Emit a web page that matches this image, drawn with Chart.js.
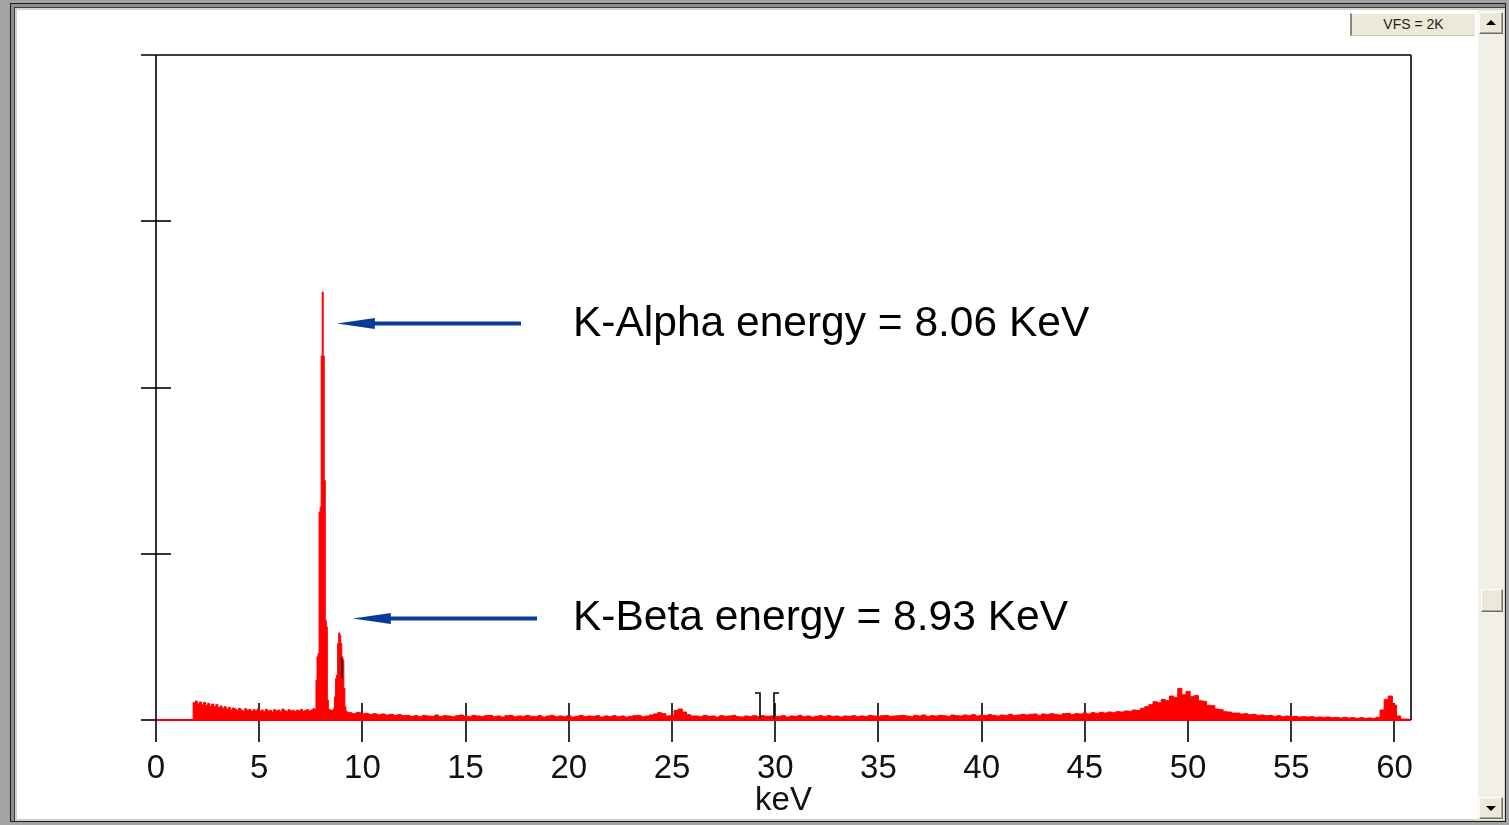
<!DOCTYPE html>
<html>
<head>
<meta charset="utf-8">
<title>Spectrum</title>
<script src="https://cdn.jsdelivr.net/npm/chart.js@4/dist/chart.umd.min.js"></script>
<style>
  html, body { margin: 0; padding: 0; width: 1509px; height: 825px; overflow: hidden; background: #a3a3a3; }
  .win {
    position: absolute; left: 10px; top: 3px; width: 1494px; height: 817px;
    border: 1px solid #1c1c1c; background: #fff;
    box-shadow: inset 3px 3px 0 #8e8e8e, inset 4px 4px 0 #3c3c3c, inset 6px 6px 0 #d6d3ca, inset -2px -2px 0 #d4d0c8;
  }
  #wrap { position: absolute; left: 0; top: 0; width: 1509px; height: 825px; z-index: 1; }
  .sb {
    position: absolute; left: 1478px; top: 10px; width: 26px; height: 810px; z-index: 2;
    background: repeating-conic-gradient(#f7f6f1 0 25%, #ebe9e0 0 50%) 0 0 / 2px 2px;
  }
  .btn {
    position: absolute; left: 1479px; width: 22px; height: 20px; z-index: 3;
    background: #ece9d8;
    border-top: 1px solid #fff; border-left: 1px solid #fff;
    border-right: 1px solid #716f64; border-bottom: 1px solid #716f64;
    box-shadow: inset -1px -1px 0 #aca899;
  }
  .up { top: 12px; }
  .down { top: 797px; }
  .thumb { top: 589px; left: 1481px; width: 20px; height: 21px; }
  .tri { position: absolute; left: 6px; width: 0; height: 0; border-left: 5px solid transparent; border-right: 5px solid transparent; }
  .up .tri { top: 7px; border-bottom: 5px solid #000; }
  .down .tri { top: 8px; border-top: 5px solid #000; }
  .vfs {
    position: absolute; left: 1350px; top: 13px; width: 123px; height: 21px; z-index: 2;
    background: #ece9d8; border-left: 2px solid #8a877c; border-top: 1px solid #fff; border-bottom: 1px solid #c9c5b5;
    font: 14px "Liberation Sans", Arial, sans-serif; color: #222; text-align: center; line-height: 21px;
  }
</style>
</head>
<body>
<div class="win"></div>
<div id="wrap"><canvas id="c" width="1509" height="825"></canvas></div>
<div class="vfs">VFS = 2K</div>
<div class="sb"></div>
<div class="btn up"><div class="tri"></div></div>
<div class="btn thumb"></div>
<div class="btn down"><div class="tri"></div></div>
<script>
// ---- spectrum data (counts per channel) ----
// 1.8 – 7.7 keV, 0.1 keV channels
const lowEnergyStart = 1.8;
const lowEnergyStep = 0.1;
const lowEnergyCounts = [
  52, 57, 48, 54, 46, 53, 44, 50, 41, 48,
  40, 46, 37, 42, 35, 40, 33, 38, 31, 36,
  33, 29, 35, 30, 27, 34, 29, 32, 26, 31,
  28, 33, 26, 30, 25, 32, 27, 29, 24, 31,
  27, 30, 25, 33, 28, 26, 31, 27, 29, 25,
  30, 27, 32, 26, 29, 31, 27, 30, 34
];

// 7.7 – 9.3 keV, 0.05 keV channels (Cu K-alpha / K-beta lines)
const copperStart = 7.7;
const copperStep = 0.05;
const copperCounts = [
  30, 120, 190, 200, 625, 640, 1095, 1287, 1095, 720,
  300, 280, 60, 30, 32, 28, 30, 27, 35, 70,
  125, 135, 230, 262, 255, 230, 190, 180, 95, 40,
  26, 24
];

// 9.3 – 61.1 keV, 0.2 keV channels
const highEnergyStart = 9.3;
const highEnergyStep = 0.2;
const highEnergyCounts = [
  22, 19, 23, 18, 20, 17, 19, 16, 18, 15, 17, 14, 16, 13,
  14, 11, 13, 10, 14, 12, 11, 15, 10, 13,
  12, 10, 13, 15, 11, 10, 14, 12, 10, 13,
  14, 10, 12, 9, 13, 14, 10, 12, 11, 14,
  11, 10, 13, 9, 12, 14, 10, 12, 10, 13,
  9, 11, 14, 10, 12, 11, 13, 9, 12, 10,
  13, 10, 12, 9, 11, 13, 14, 10, 12, 15,
  18, 22, 19, 12, 14, 29, 33, 24, 16, 12,
  12, 10, 14, 11, 12, 9, 13, 11, 12, 14, 10, 9, 12, 11, 13, 10, 13, 11, 12, 10,
  11, 13, 9, 12, 11, 14, 10, 12, 9, 11, 13, 10, 13, 11, 12, 9, 12, 11, 13, 10,
  12, 10, 14, 12, 11, 13, 14, 11, 12, 13, 14, 12, 10, 14, 12, 15, 11, 13, 12, 14,
  13, 11, 15, 13, 12, 15, 13, 16, 12, 14, 13, 16, 14, 12, 15, 14, 17, 13, 15, 17,
  15, 17, 18, 14, 18, 16, 19, 17, 15, 19, 20, 16, 19, 18, 21, 18, 22, 20, 23, 21,
  24, 22, 25, 24, 27, 26, 30, 29, 35, 40,
  46, 55, 52, 62, 58, 72, 68, 95, 76, 86,
  70, 74, 58, 56, 44, 43, 33, 31, 25, 24,
  21, 21, 18, 19, 16, 17, 14, 15, 13, 14,
  11, 13, 10, 12, 10, 11, 9, 10, 9, 10,
  8, 9, 8, 9, 7, 8, 6, 8, 6, 7,
  5, 7, 5, 6, 5, 8, 30, 62, 72, 45,
  12, 3, 3, 2, 2
];

// ---- axes, labels, annotations ----
const energyTicks = [0, 5, 10, 15, 20, 25, 30, 35, 40, 45, 50, 55, 60];
const countTicks = [0, 500, 1000, 1500];
const energyMax = 60.8;
const countMax = 2000;
const axisTitle = 'keV';
const peakLabels = ['K-Alpha energy = 8.06 KeV', 'K-Beta energy = 8.93 KeV'];
const peakEnergies = [8.06, 8.93];
const roiMarkers = [29.26, 29.96];

function channelPoints(start, step, counts) {
  return counts.map((c, i) => ({ x: +(start + i * step).toFixed(3), y: c }));
}

const spectrum = [{ x: 0, y: 0 }]
  .concat(channelPoints(lowEnergyStart, lowEnergyStep, lowEnergyCounts))
  .concat(channelPoints(copperStart, copperStep, copperCounts))
  .concat(channelPoints(highEnergyStart, highEnergyStep, highEnergyCounts));
spectrum.push({ x: +(highEnergyStart + highEnergyCounts.length * highEnergyStep).toFixed(3), y: 2 });

const FONT = '"Liberation Sans", Arial, sans-serif';
const RED = '#ff0000';
const ARROW = '#0a3a99';

function seg(ctx, x1, y1, x2, y2) {
  ctx.beginPath(); ctx.moveTo(x1, y1); ctx.lineTo(x2, y2); ctx.stroke();
}

function arrow(ctx, tipX, tailX, yy, headLen, headHalf, shaft) {
  ctx.fillStyle = ARROW;
  ctx.fillRect(tipX + headLen - 2, yy - shaft / 2, tailX - (tipX + headLen - 2), shaft);
  ctx.beginPath();
  ctx.moveTo(tipX, yy);
  ctx.lineTo(tipX + headLen, yy - headHalf);
  ctx.lineTo(tipX + headLen, yy + headHalf);
  ctx.closePath();
  ctx.fill();
}

const spectrumFrame = {
  id: 'spectrumFrame',
  beforeDatasetsDraw(chart) {
    const { ctx, scales: { x, y } } = chart;
    const base = y.getPixelForValue(0);
    ctx.save();
    ctx.strokeStyle = '#000';
    ctx.lineWidth = 1.6;
    energyTicks.forEach(v => {
      if (v === 0) return;
      const px = Math.round(x.getPixelForValue(v));
      seg(ctx, px, base - 17, px, base + 22);
    });
    countTicks.forEach(v => {
      const py = Math.round(y.getPixelForValue(v));
      seg(ctx, x.left - 15, py, x.left + 15, py);
    });
    ctx.restore();
  },
  afterDatasetsDraw(chart) {
    const { ctx, scales: { x, y } } = chart;
    const base = y.getPixelForValue(0);
    ctx.save();
    // red zero line of the spectrum
    ctx.strokeStyle = RED;
    ctx.lineWidth = 2;
    seg(ctx, x.left, base, x.right, base);

    // plot frame
    ctx.strokeStyle = '#000';
    ctx.lineWidth = 1.6;
    const left = Math.round(x.left), right = Math.round(x.right), top = Math.round(y.top);
    seg(ctx, left, top, left, base + 22);
    seg(ctx, left - 15, top, right, top);
    seg(ctx, right, top, right, base);

    // region-of-interest markers
    const mL = Math.round(x.getPixelForValue(roiMarkers[0]));
    const mR = Math.round(x.getPixelForValue(roiMarkers[1]));
    ctx.beginPath(); ctx.moveTo(mL - 5, base - 27); ctx.lineTo(mL, base - 27); ctx.lineTo(mL, base - 1); ctx.stroke();
    ctx.beginPath(); ctx.moveTo(mR + 5, base - 27); ctx.lineTo(mR, base - 27); ctx.lineTo(mR, base - 1); ctx.stroke();
    const mk = Math.round(x.getPixelForValue(9.03));
    ctx.lineWidth = 1.4;
    seg(ctx, mk, base - 62, mk, base - 42);

    // tick labels and axis title
    ctx.fillStyle = '#111';
    ctx.font = '33px ' + FONT;
    ctx.textAlign = 'center';
    ctx.textBaseline = 'alphabetic';
    energyTicks.forEach(v => {
      ctx.fillText(String(v), x.getPixelForValue(v), base + 58);
    });
    ctx.fillText(axisTitle, (x.left + x.right) / 2, base + 90);

    // peak annotations
    const ka = x.getPixelForValue(peakEnergies[0]);
    const kb = x.getPixelForValue(peakEnergies[1]);
    arrow(ctx, ka + 14.5, 521, 323.5, 38, 5.5, 4);
    arrow(ctx, kb + 12.5, 537, 618.5, 38, 5.5, 4);

    ctx.fillStyle = '#000';
    ctx.font = '42.5px ' + FONT;
    ctx.textAlign = 'left';
    ctx.fillText(peakLabels[0], 573, 336);
    ctx.fillText(peakLabels[1], 573, 630);
    ctx.restore();
  }
};

new Chart(document.getElementById('c'), {
  type: 'line',
  data: {
    datasets: [{
      data: spectrum,
      borderColor: RED,
      backgroundColor: RED,
      borderWidth: 1,
      pointRadius: 0,
      fill: 'origin',
      stepped: 'before',
      tension: 0
    }]
  },
  options: {
    responsive: false,
    devicePixelRatio: 1,
    animation: false,
    events: [],
    layout: { padding: { left: 156, right: 98, top: 55, bottom: 105 } },
    plugins: { legend: { display: false }, tooltip: { enabled: false } },
    scales: {
      x: { type: 'linear', min: 0, max: energyMax, display: false },
      y: { type: 'linear', min: 0, max: countMax, display: false }
    }
  },
  plugins: [spectrumFrame]
});
</script>
</body>
</html>
